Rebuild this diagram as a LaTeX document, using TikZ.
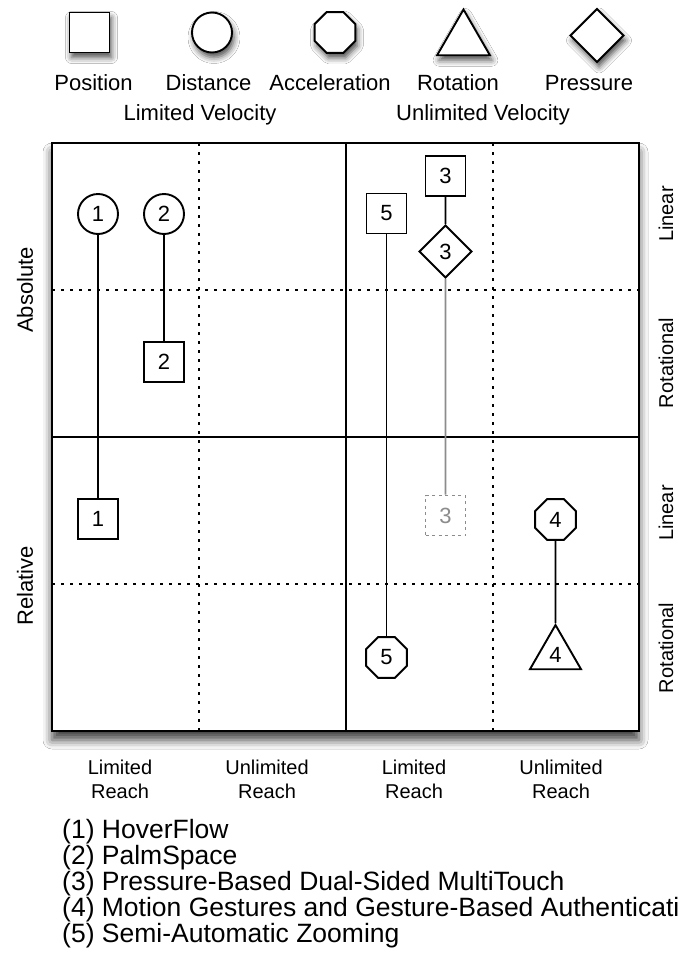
\documentclass[tikz,border=0pt]{standalone}
\usepackage{fontspec}
\setmainfont{Liberation Sans}
\usetikzlibrary{shapes.geometric,shadows.blur}
\definecolor{ghost}{HTML}{8C8C8C}
\tikzset{
  shp/.style={draw, line width=1.9pt, fill=white, inner sep=0pt, font=\fontsize{22}{22}\selectfont},
  sq/.style={shp, rectangle, minimum size=40pt},
  circ/.style={shp, circle, minimum size=40pt},
  oct/.style={shp, regular polygon, regular polygon sides=8, minimum size=44pt},
  tri/.style={shp, regular polygon, regular polygon sides=3, minimum size=60pt},
  dia/.style={shp, regular polygon, regular polygon sides=4, shape border rotate=45, minimum size=52pt},
  lgshadow/.style={blur shadow={shadow xshift=2pt, shadow yshift=-5pt, shadow blur radius=6pt, shadow opacity=70}},
  lglabel/.style={anchor=base, inner sep=0pt, font=\fontsize{22}{22}\selectfont},
  reachlabel/.style={anchor=north, inner sep=0pt, align=center, font=\fontsize{20}{24}\selectfont},
  sidelabel/.style={rotate=90, inner sep=0pt, font=\fontsize{20}{20}\selectfont},
  leftlabel/.style={rotate=90, inner sep=0pt, font=\fontsize{22}{22}\selectfont},
  listitem/.style={anchor=base west, inner sep=0pt, font=\fontsize{26.5}{26.5}\selectfont},
  grid dots/.style={line width=2.2pt, dash pattern=on 2.5pt off 6.5pt},
  link/.style={line width=1.9pt},
  ghostlink/.style={line width=1.9pt, draw=ghost}
}
\begin{document}
\begin{tikzpicture}[x=1pt,y=-1pt]
\useasboundingbox (0,0) rectangle (678,972);
\fill[white] (0,0) rectangle (678,972);

% legend
\node[sq, lgshadow] (lgsq) at (89.5,32.5) {};
\node[circ, lgshadow] (lgci) at (212,32.5) {};
\node[oct, lgshadow] (lgoc) at (335,32.5) {};
\node[tri, minimum size=61pt, lgshadow] (lgtr) at (463.5,40) {};
\node[dia, minimum size=53pt, lgshadow] (lgdi) at (597,35.5) {};

\node[lglabel] (lpos) at (93.5,90) {Position};
\node[lglabel] (ldis) at (208.5,90) {Distance};
\node[lglabel] (lacc) at (330,90) {Acceleration};
\node[lglabel] (lrot) at (458,90) {Rotation};
\node[lglabel] (lpre) at (589,90) {Pressure};
\node[lglabel] (lvel) at (200,120) {Limited Velocity};
\node[lglabel] (uvel) at (483,120) {Unlimited Velocity};

% grid frame with shadow
\path[fill=white, blur shadow={shadow xshift=0pt, shadow yshift=-9pt, shadow blur radius=9pt, shadow opacity=75}] (52,143) rectangle (639,731);
\draw[grid dots] (52,290) -- (639,290);
\draw[grid dots] (52,584) -- (639,584);
\draw[grid dots] (199,143) -- (199,731);
\draw[grid dots] (493,143) -- (493,731);
\draw[line width=2.4pt] (52,143) rectangle (639,731);
\draw[line width=2.2pt] (346,143) -- (346,731);
\draw[line width=2.2pt] (52,437) -- (639,437);

% axis labels
\node[leftlabel] (abs) at (25,290) {Absolute};
\node[leftlabel] (rel) at (25,586) {Relative};
\node[sidelabel] (lin1) at (666,214) {Linear};
\node[sidelabel] (rot1) at (666,363) {Rotational};
\node[sidelabel] (lin2) at (666,513) {Linear};
\node[sidelabel] (rot2) at (666,648) {Rotational};

\node[reachlabel] (r1) at (120,760) {Limited\\Reach};
\node[reachlabel] (r2) at (267,760) {Unlimited\\Reach};
\node[reachlabel] (r3) at (414,760) {Limited\\Reach};
\node[reachlabel] (r4) at (561,760) {Unlimited\\Reach};

% technique nodes
\node[circ] (c1) at (98,214) {1};
\node[sq] (s1) at (98,519) {1};
\node[circ] (c2) at (164,214) {2};
\node[sq] (s2) at (164,362) {2};
\node[sq] (s5) at (386.5,213.5) {5};
\node[oct] (o5) at (386.5,657.5) {5};
\node[sq] (s3a) at (445.5,176) {3};
\node[dia] (d3) at (445.5,251.5) {3};
\node[sq, draw=ghost, text=ghost, dash pattern=on 3pt off 3.5pt] (s3b) at (445.5,515.5) {3};
\node[oct] (o4) at (555.5,519.5) {4};
\node[tri, minimum size=59pt] (t4) at (555.5,654.5) {4};

\draw[link] (c1) -- (s1);
\draw[link] (c2) -- (s2);
\draw[link] (s5) -- (o5);
\draw[link] (s3a) -- (d3);
\draw[ghostlink] (d3) -- (s3b);
\draw[link] (o4) -- (t4);

% list
\node[listitem] (i1) at (62,838) {(1) HoverFlow};
\node[listitem] (i2) at (62,864) {(2) PalmSpace};
\node[listitem] (i3) at (62,890) {(3) Pressure-Based Dual-Sided MultiTouch};
\node[listitem] (i4) at (62,916) {(4) Motion Gestures and Gesture-Based Authentication};
\node[listitem] (i5) at (62,942) {(5) Semi-Automatic Zooming};
\end{tikzpicture}
\end{document}
